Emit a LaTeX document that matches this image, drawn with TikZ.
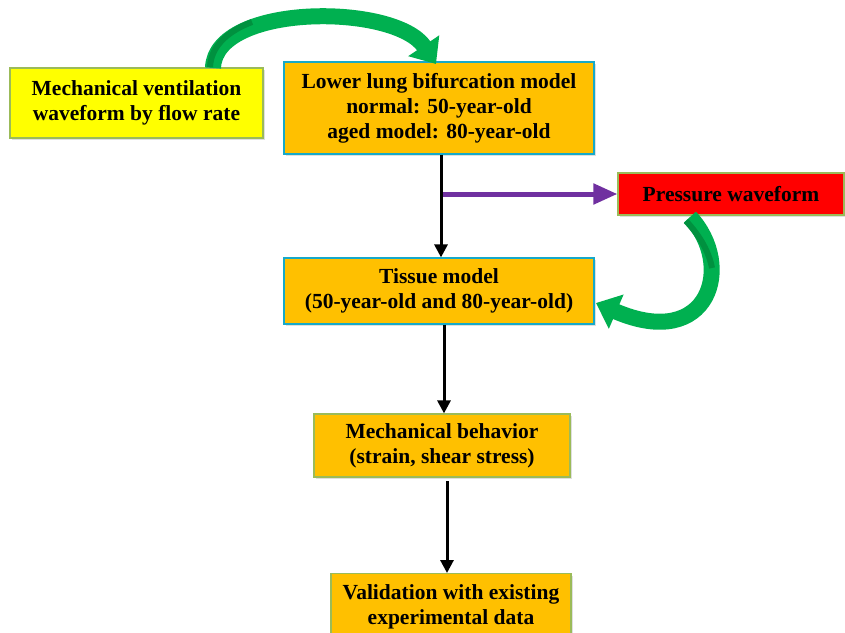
\documentclass[tikz,border=0pt]{standalone}
\usepackage{fontspec}
\setmainfont{Liberation Serif}
\usetikzlibrary{arrows.meta,shadows}
\definecolor{boxorange}{HTML}{FFC000}
\definecolor{boxyellow}{HTML}{FFFF00}
\definecolor{boxred}{HTML}{FF0000}
\definecolor{edgegreen}{HTML}{9BBB59}
\definecolor{edgecyan}{HTML}{17A9C9}
\definecolor{arrgreen}{HTML}{00B050}
\definecolor{arrdark}{HTML}{00913F}
\definecolor{arrpurple}{HTML}{7030A0}
\tikzset{
  base/.style={draw, line width=1.2pt, align=center, inner sep=0pt,
    font=\fontsize{21.5}{25}\selectfont\bfseries,
    drop shadow={opacity=0.25, shadow xshift=2pt, shadow yshift=-2pt}},
  flowarrow/.style={line width=3pt, -{Triangle[width=13pt,length=13pt]}},
  greenarrow/.style={arrgreen, line width=16pt, -{Triangle[width=36pt,length=22pt]}}
}
\begin{document}
\begin{tikzpicture}[x=1pt,y=-1pt]
\useasboundingbox (0,0) rectangle (845,632);
% boxes
\node[base, fill=boxyellow, draw=edgegreen, minimum width=253pt, minimum height=70pt] (vent) at (136.5,103) {Mechanical ventilation\\waveform by flow rate};
\node[base, fill=boxorange, draw=edgecyan, minimum width=310pt, minimum height=92pt] (lung) at (439,108) {Lower lung bifurcation model\\normal: 50-year-old\\aged model: 80-year-old};
\node[base, fill=boxred, draw=edgegreen, minimum width=226pt, minimum height=42pt] (press) at (731,194) {Pressure waveform};
\node[base, fill=boxorange, draw=edgecyan, minimum width=310pt, minimum height=66pt] (tissue) at (439,291) {Tissue model\\(50-year-old and 80-year-old)};
\node[base, fill=boxorange, draw=edgegreen, minimum width=256pt, minimum height=63pt] (mech) at (442,445.5) {Mechanical behavior\\(strain, shear stress)};
\node[base, fill=boxorange, draw=edgegreen, minimum width=240pt, minimum height=66pt, anchor=north] (valid) at (451,573) {Validation with existing\\experimental data};
% black flow arrows
\draw[flowarrow] (lung.south -| 441,0) -- (tissue.north -| 441,0);
\draw[flowarrow] (tissue.south -| 444,0) -- (mech.north -| 444,0);
\coordinate (m1) at (447,481);
\draw[flowarrow] (m1) -- (valid.north -| 447,0);
% purple arrow
\coordinate (pstart) at (443,194);
\draw[arrpurple, line width=5pt, -{Triangle[width=20pt,length=24pt]}] (pstart) -- (press.west);
% green curved arrows
\coordinate (g1s) at (213,68);
\coordinate (g1e) at (436,64);
\draw[greenarrow] (g1s) .. controls (215,3) and (395,3) .. (g1e);
\draw[arrdark, line width=6pt] (210,67) .. controls (211,46) and (228,31) .. (252,22);
\coordinate (g2s) at (690,217);
\coordinate (g2e) at (596,303);
\draw[greenarrow] (g2s) .. controls (735,265) and (710,352) .. (g2e);
\draw[arrdark, line width=6pt] (686,221) .. controls (700,236) and (709,252) .. (712,268);
\end{tikzpicture}
\end{document}
